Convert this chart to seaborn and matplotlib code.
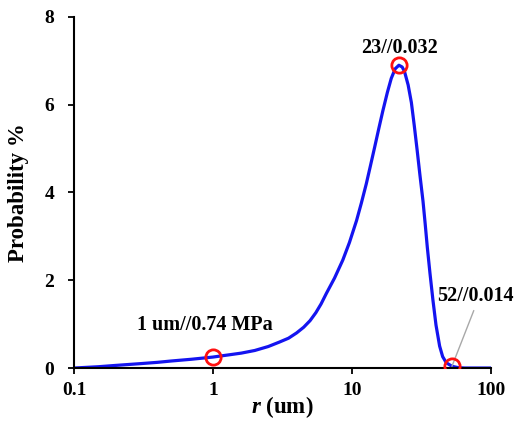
import matplotlib
matplotlib.use("Agg")
import matplotlib.pyplot as plt
import seaborn as sns
import pandas as pd

# pore radius (um) and probability (%)
radius = [0.1, 0.15, 0.2, 0.3, 0.4, 0.5, 0.7, 1.0, 1.3, 1.6, 2.0, 2.5, 3.0,
          3.5, 4.0, 4.5, 5.0, 5.5, 6.0, 6.55, 7.5, 8.6, 9.6, 10.8, 11.7, 12.7,
          13.6, 14.6, 15.6, 16.7, 18.0, 19.2, 20.5, 21.8, 23.0, 23.9, 25.4,
          26.8, 28.1, 29.5, 30.9, 32.5, 33.7, 34.9, 36.5, 38.3, 40.3, 42.8,
          45.0, 47.8, 52.5, 58.0, 65.0, 100.0]
prob = [0.0, 0.03, 0.06, 0.10, 0.13, 0.16, 0.20, 0.25, 0.30, 0.34, 0.40, 0.49,
        0.59, 0.68, 0.80, 0.93, 1.08, 1.26, 1.46, 1.70, 2.05, 2.46, 2.86, 3.36,
        3.76, 4.20, 4.61, 5.04, 5.45, 5.86, 6.28, 6.60, 6.82, 6.90, 6.86, 6.76,
        6.45, 6.05, 5.53, 4.96, 4.39, 3.80, 3.28, 2.75, 2.15, 1.55, 0.98, 0.50,
        0.26, 0.12, 0.04, 0.01, 0.0, 0.0]

# highlighted points
mark_r = [1.0, 21.8, 52.5]
mark_p = [0.25, 6.90, 0.04]
mark_labels = ["1 um//0.74 MPa", "23//0.032", "52//0.014"]

x_ticks = [0.1, 1, 10, 100]
x_tick_labels = ["0.1", "1", "10", "100"]
y_ticks = [0, 2, 4, 6, 8]

sns.set_style("ticks")
plt.rcParams["font.family"] = ["Liberation Serif", "DejaVu Serif"]
plt.rcParams["font.weight"] = "bold"
plt.rcParams["text.color"] = "black"
plt.rcParams["axes.labelcolor"] = "black"
plt.rcParams["xtick.color"] = "black"
plt.rcParams["ytick.color"] = "black"
plt.rcParams["mathtext.fontset"] = "custom"
plt.rcParams["mathtext.it"] = "Liberation Serif:italic:bold"
plt.rcParams["mathtext.rm"] = "Liberation Serif:bold"

df = pd.DataFrame({"r": radius, "p": prob})
marks = pd.DataFrame({"r": mark_r, "p": mark_p})

fig = plt.figure(figsize=(5.23, 4.24), dpi=100)
ax = fig.add_axes([0.1415, 0.132, 0.797, 0.828])

sns.lineplot(data=df, x="r", y="p", ax=ax, color="#1414f0", lw=2.3)
ax.plot(marks["r"], marks["p"], "o", ms=11, mfc="none", mec="#ff1010", mew=2,
        zorder=5)

ax.set_xscale("log")
ax.set_xlim(0.1, 100)
ax.set_ylim(0, 8)
ax.set_xticks(x_ticks)
ax.set_xticklabels(x_tick_labels)
ax.set_yticks(y_ticks)
ax.minorticks_off()
ax.tick_params(labelsize=14, width=1.3, length=4.3)
ax.tick_params(axis="x", pad=6)
ax.tick_params(axis="y", pad=10)
for lab in ax.get_xticklabels() + ax.get_yticklabels():
    lab.set_fontweight("bold")

sns.despine(ax=ax)
for s in ["left", "bottom"]:
    ax.spines[s].set_linewidth(1.5)
    ax.spines[s].set_color("black")

ax.set_xlabel(r"$\it{r}$ (um)", fontsize=16.5, fontweight="bold", labelpad=-4)
ax.set_ylabel("Probability %", fontsize=16.5, fontweight="bold", labelpad=11)

# annotations
ax.annotate(mark_labels[0], (mark_r[0], mark_p[0]), xytext=(-5.5, 19.5),
            textcoords="offset points", ha="center", va="baseline",
            fontsize=14.5, fontweight="bold")
ax.annotate(mark_labels[1], (mark_r[1], mark_p[1]), xytext=(0.5, 9),
            textcoords="offset points", ha="center", va="baseline",
            fontsize=14.5, fontweight="bold")
ax.annotate(mark_labels[2], (mark_r[2], mark_p[2]), xytext=(17, 47),
            textcoords="offset points", ha="center", va="baseline",
            fontsize=14.5, fontweight="bold",
            arrowprops=dict(arrowstyle="-", color="#a8a8a8", lw=1,
                            shrinkA=1, shrinkB=0, relpos=(0.5, 0)))

fig.savefig("out.png", dpi=100)
